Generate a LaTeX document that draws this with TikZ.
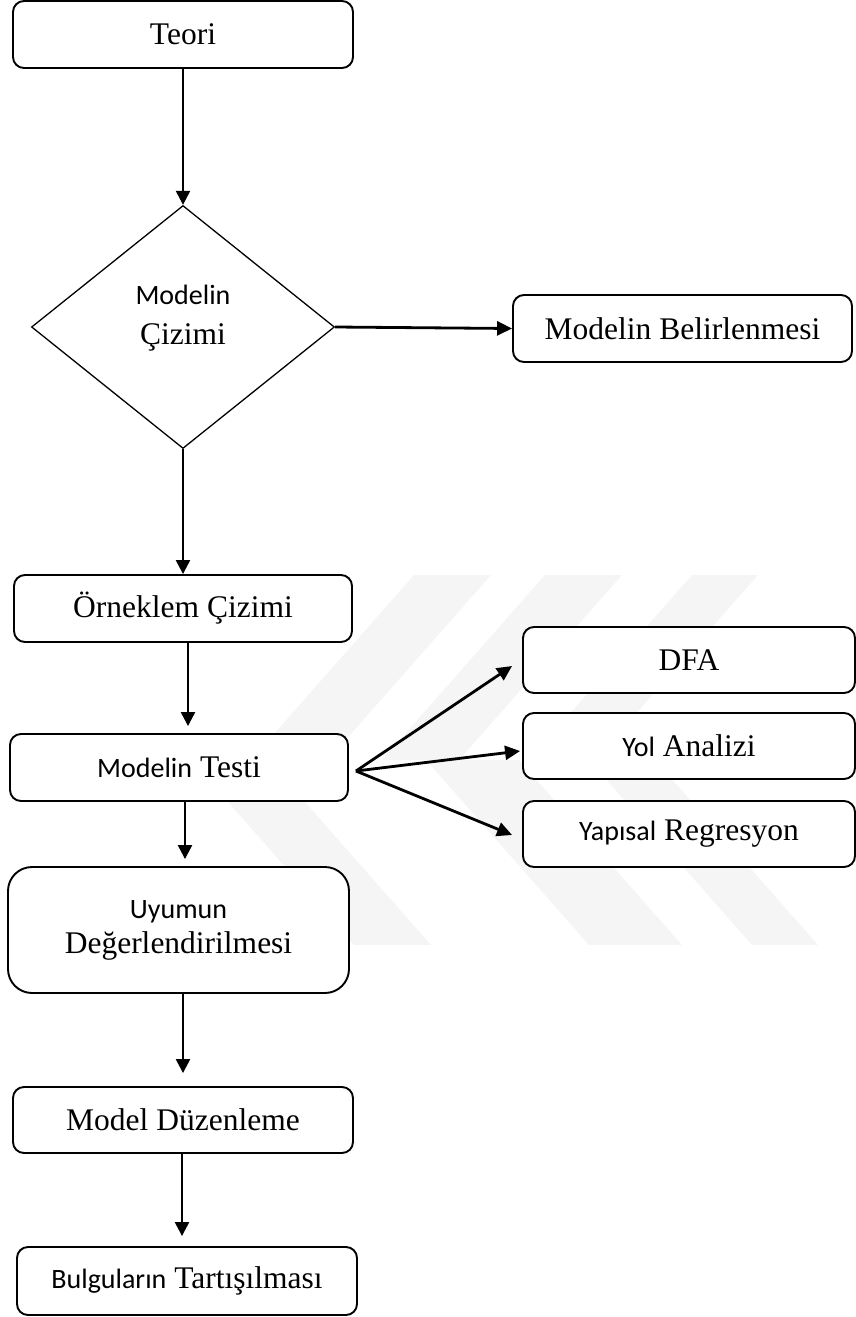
\documentclass[tikz,border=0pt]{standalone}
\usepackage{fontspec}
\setmainfont{Liberation Serif}
\newfontfamily\calib{Carlito}
\usetikzlibrary{shapes.geometric,arrows.meta,calc}
\newcommand\cbr[1]{{\calib\fontsize{28}{34}\selectfont #1}}
\begin{document}
\begin{tikzpicture}[x=1pt,y=-1pt,
  box/.style={draw=black,fill=white,line width=1.9pt,rounded corners=11pt,minimum width=338pt,minimum height=67pt,inner sep=0pt,align=center,font=\fontsize{31.5}{37}\selectfont},
  arr/.style={line width=2.3pt,-{Triangle[length=14pt,width=14pt]}},
  arrb/.style={line width=2.8pt,-{Triangle[length=15pt,width=14pt]}},
  wm/.style={fill=black!4,draw=none}]
\useasboundingbox (0,0) rectangle (855,1317);
% faint watermark
\foreach \a/\w in {414/77,545/77,692/66}
  \fill[wm] (\a,575) -- (\a+\w,575) -- (\a+\w-163,760) -- (\a-163,760) -- cycle;
\foreach \b/\w in {354/77,589/93,752/66}
  \fill[wm] (\b-163,760) -- (\b-163+\w,760) -- (\b+\w,945) -- (\b,945) -- cycle;
% nodes
\node[box,minimum width=340pt] (teori) at (183,34.5) {Teori};
\node[draw=black,fill=white,diamond,line width=1.3pt,minimum width=303pt,minimum height=243pt,inner sep=0pt] (dia) at (183,327) {};
\node[align=center,inner sep=0pt,font=\fontsize{31.5}{40}\selectfont] (dtext) at (183,318) {\cbr{Modelin}\\Çizimi};
\node[box,minimum width=339pt] (belir) at (682.5,328.5) {Modelin Belirlenmesi};
\node[box] (orn) at (183,608.5) {Örneklem Çizimi};
\node[box] (test) at (179,767.5) {\cbr{Modelin} Testi};
\node[box,minimum width=332pt,minimum height=66pt] (dfa) at (689,660) {DFA};
\node[box,minimum width=332pt,minimum height=66pt] (yol) at (689,746) {\cbr{Yol} Analizi};
\node[box,minimum width=332pt,minimum height=66pt] (yap) at (689,834) {\cbr{Yapısal} Regresyon};
\node[box,minimum width=341pt,minimum height=126pt,rounded corners=24pt] (uyum) at (178.5,930) {\cbr{Uyumun}\\[-2pt]Değerlendirilmesi};
\node[box,minimum width=340pt,minimum height=66pt] (duz) at (183,1120) {Model Düzenleme};
\node[box,minimum width=340pt,minimum height=68pt] (bulg) at (187,1281) {\cbr{Bulguların} Tartışılması};
% connectors
\draw[arr] (teori.south) -- (dia.north);
\draw[arrb] (dia.east) -- (belir.west);
\draw[arr] (dia.south) -- (orn.north);
\draw[arr] ($(orn.south)+(5,0)$) -- ($(test.north)+(9,-7)$);
\coordinate (fan) at ($(test.east)+(7,3.5)$);
\draw[arrb] (fan) -- ($(dfa.west)+(-10,6)$);
\draw[arrb] (fan) -- ($(yol.west)+(-2,5)$);
\draw[arrb] (fan) -- ($(yap.west)+(-10,1)$);
\draw[arr] ($(test.south)+(6,0)$) -- ($(uyum.north)+(6.5,-7)$);
\draw[arr] ($(uyum.south)+(4.5,0)$) -- ($(duz.north)+(0,-13)$);
\draw[arr] ($(duz.south)+(-1,0)$) -- ($(bulg.north)+(-5,-10)$);
\end{tikzpicture}
\end{document}
